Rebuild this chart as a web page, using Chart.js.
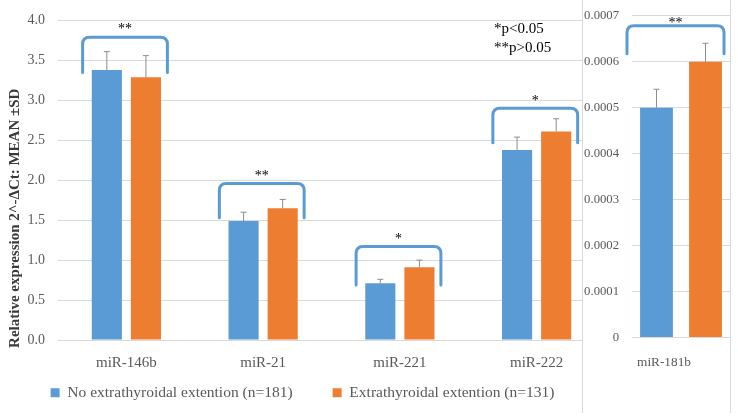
<!DOCTYPE html>
<html>
<head>
<meta charset="utf-8">
<script src="https://cdn.jsdelivr.net/npm/chart.js@4.4.1/dist/chart.umd.min.js"></script>
<style>
  html, body { margin: 0; padding: 0; background: #fff; }
  #wrap { position: relative; width: 738px; height: 416px; overflow: hidden; background: #fff; }
  #lc { position: absolute; left: 0; top: 0; width: 606px; height: 416px; }
  #rc { position: absolute; left: 582px; top: 0; width: 147px; height: 413px; background: #fff;
        border-left: 1px solid #d9d9d9; border-right: 1px solid #d9d9d9; }
</style>
</head>
<body>
<div id="wrap">
  <div id="lc"><canvas id="leftChart"></canvas></div>
  <div id="rc"><canvas id="rightChart"></canvas></div>
</div>
<script>
// ---------- data ----------
const categories = ['miR-146b', 'miR-21', 'miR-221', 'miR-222'];
const seriesNames = ['No extrathyroidal extention (n=181)', 'Extrathyroidal extention (n=131)'];
const noExtValues = [3.38, 1.49, 0.71, 2.38];
const extValues   = [3.29, 1.65, 0.91, 2.61];
const noExtSD     = [0.23, 0.11, 0.05, 0.16];
const extSD       = [0.27, 0.11, 0.09, 0.16];
const sigLabels   = ['**', '**', '*', '*'];
const bracketTop    = [3.79, 1.96, 1.17, 2.90];
const bracketBottom = [3.35, 1.53, 0.69, 2.47];

const categories181 = ['miR-181b'];
const noExt181 = [0.0005];
const ext181   = [0.0006];
const noExt181SD = [0.00004];
const ext181SD   = [0.00004];
const sigLabels181 = ['**'];
const bracketTop181    = [0.000678];
const bracketBottom181 = [0.000617];

const pNotes = ['*p<0.05', '**p>0.05'];
const yTitle = 'Relative expression 2^-\u0394Ct: MEAN \u00B1SD';

// ---------- style ----------
const BLUE = '#5B9BD5', ORANGE = '#ED7D31';
const FONT = "'Liberation Serif', 'Times New Roman', serif";
const CLEAR = 'rgba(0,0,0,0)';
Chart.defaults.font.family = FONT;
Chart.defaults.color = '#595959';

function annotPlugin(id, sds, tops, bottoms, sigs, span, shift, starGap, extra, legendLift) {
  return {
    id: id,
    afterLayout(chart) {
      if (legendLift && chart.legend) {
        chart.legend.top -= legendLift;
      }
    },
    afterDatasetsDraw(chart) {
      const ctx = chart.ctx, xs = chart.scales.x, ys = chart.scales.y;
      // error bars (upper only)
      ctx.save();
      ctx.strokeStyle = '#8c8c8c';
      ctx.lineWidth = 1;
      sds.forEach((sdArr, di) => {
        const meta = chart.getDatasetMeta(di);
        meta.data.forEach((el, j) => {
          const v = chart.data.datasets[di].data[j];
          const yTop = ys.getPixelForValue(v + sdArr[j]);
          ctx.beginPath();
          ctx.moveTo(el.x, el.y);
          ctx.lineTo(el.x, yTop);
          ctx.moveTo(el.x - 3, yTop);
          ctx.lineTo(el.x + 3, yTop);
          ctx.stroke();
        });
      });
      ctx.restore();
      // brackets + significance marks
      const catW = (xs.right - xs.left) / chart.data.labels.length;
      ctx.save();
      tops.forEach((t, j) => {
        const cx = xs.getPixelForValue(j) + shift * catW;
        const half = catW * span / 2;
        const x1 = cx - half, x2 = cx + half;
        const yt = ys.getPixelForValue(t), yb = ys.getPixelForValue(bottoms[j]);
        const r = 7;
        ctx.strokeStyle = BLUE;
        ctx.lineWidth = 3;
        ctx.lineCap = 'round';
        ctx.beginPath();
        ctx.moveTo(x1, yb);
        ctx.lineTo(x1, yt + r);
        ctx.quadraticCurveTo(x1, yt, x1 + r, yt);
        ctx.lineTo(x2 - r, yt);
        ctx.quadraticCurveTo(x2, yt, x2, yt + r);
        ctx.lineTo(x2, yb);
        ctx.stroke();
        ctx.fillStyle = '#000';
        ctx.font = '14px ' + FONT;
        ctx.textAlign = 'center';
        ctx.textBaseline = 'middle';
        ctx.fillText(sigs[j], cx, yt - starGap);
      });
      ctx.restore();
      if (extra) extra(chart);
    }
  };
}

// ---------- left chart ----------
new Chart(document.getElementById('leftChart'), {
  type: 'bar',
  data: {
    labels: categories,
    datasets: [
      { label: seriesNames[0], data: noExtValues, backgroundColor: BLUE, categoryPercentage: 0.572, barPercentage: 0.77 },
      { label: seriesNames[1], data: extValues, backgroundColor: ORANGE, categoryPercentage: 0.572, barPercentage: 0.77 }
    ]
  },
  options: {
    responsive: true,
    maintainAspectRatio: false,
    animation: false,
    devicePixelRatio: 1,
    layout: { padding: { top: 20.5, right: 1, bottom: 0, left: 0 } },
    plugins: {
      legend: {
        position: 'bottom',
        maxHeight: 46,
        labels: { boxWidth: 9, boxHeight: 9, padding: 40, color: '#595959', font: { size: 15.5 } }
      },
      tooltip: { enabled: false }
    },
    scales: {
      x: {
        grid: { display: false, drawTicks: false },
        border: { display: false },
        ticks: { padding: 14, color: '#595959', font: { size: 15 } },
        afterFit(s) { s.height = 30; }
      },
      y: {
        min: 0, max: 4,
        grid: { color: '#d9d9d9', drawTicks: true, tickLength: 10, tickColor: CLEAR },
        border: { display: false },
        ticks: { stepSize: 0.5, padding: 3, color: '#595959', font: { size: 14 },
                 callback: v => Number(v).toFixed(1) },
        afterFit(s) { s.width = 58; }
      }
    }
  },
  plugins: [annotPlugin('leftAnnot', [noExtSD, extSD], bracketTop, bracketBottom, sigLabels, 0.62, -0.01, 7.5,
    (chart) => {
      const ctx = chart.ctx, ca = chart.chartArea;
      ctx.save();
      // p-value notes
      ctx.fillStyle = '#000';
      ctx.font = '15px ' + FONT;
      ctx.textAlign = 'left';
      ctx.textBaseline = 'middle';
      ctx.fillText(pNotes[0], ca.right - 111, ca.top + 9);
      ctx.fillText(pNotes[1], ca.right - 111, ca.top + 28);
      // y-axis title
      ctx.translate(15, (ca.top + chart.height) / 2);
      ctx.rotate(-Math.PI / 2);
      ctx.fillStyle = '#3a3a3a';
      ctx.font = 'bold 15px ' + FONT;
      ctx.textAlign = 'center';
      ctx.fillText(yTitle, 0, 0);
      ctx.restore();
    }, 25)]
});

// ---------- right chart ----------
new Chart(document.getElementById('rightChart'), {
  type: 'bar',
  data: {
    labels: categories181,
    datasets: [
      { label: seriesNames[0], data: noExt181, backgroundColor: BLUE, categoryPercentage: 1.0, barPercentage: 0.67 },
      { label: seriesNames[1], data: ext181, backgroundColor: ORANGE, categoryPercentage: 1.0, barPercentage: 0.67 }
    ]
  },
  options: {
    responsive: true,
    maintainAspectRatio: false,
    animation: false,
    devicePixelRatio: 1,
    layout: { padding: { top: 15.7, right: 0, bottom: 45.5, left: 0 } },
    plugins: { legend: { display: false }, tooltip: { enabled: false } },
    scales: {
      x: {
        grid: { display: false, drawTicks: false },
        border: { display: false },
        ticks: { padding: 17, labelOffset: -17, color: '#595959', font: { size: 13.3 } },
        afterFit(s) { s.height = 30; }
      },
      y: {
        min: 0, max: 0.0007,
        grid: { color: '#d9d9d9', drawTicks: true, tickLength: 10, tickColor: CLEAR },
        border: { display: false },
        ticks: { stepSize: 0.0001, padding: 3, color: '#595959', font: { size: 12.7 },
                 callback: v => (Math.abs(v) < 1e-12 ? '0' : Number(v).toFixed(4)) },
        afterFit(s) { s.width = 49; }
      }
    }
  },
  plugins: [annotPlugin('rightAnnot', [noExt181SD, ext181SD], bracketTop181, bracketBottom181, sigLabels181, 0.99, -0.056, 2.5, null, 0)]
});
</script>
</body>
</html>
